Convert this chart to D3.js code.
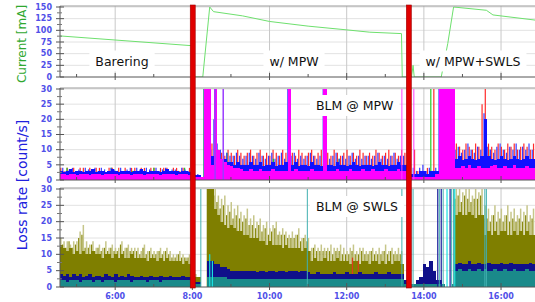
<!DOCTYPE html>
<html>
<head>
<meta charset="utf-8">
<script src="https://cdn.jsdelivr.net/npm/d3@7/dist/d3.min.js"></script>
<style>
  body { margin: 0; background: #fff; }
  svg { display: block; font-family: "DejaVu Sans", Verdana, sans-serif; }
</style>
</head>
<body>
<svg id="chart" width="535" height="302"></svg>
<script>
// Ring current (mA) over the shift
const currentTimes  = [4.57, 8.0, 8.05, 8.27, 8.45, 8.55, 9.3, 10, 11, 12, 12.6, 13.42, 13.44, 13.68, 13.72, 13.75, 14.45, 14.62, 14.77, 15.62, 15.79, 16.88];
const currentValues = [88, 67, 0, 0, 150, 140, 131, 119, 109, 101, 96, 93, 0, 0, 25, 0, 0, 72, 150, 143, 133, 122];

// loss samples: one value every 5 min starting at 4:33
const sampleStart = 4.55;
const sampleStep = 1 / 12;

// BLM @ MPW
const mpwMagenta = [
  2,2,1.5,2,2,1.5,2,2,2,1.5,2,2,
  2,1.5,2,2,2,2,1.5,2,2,2,1.5,2,
  2,2,1.5,2,2,2,2,1.5,2,2,2,2,
  1.5,2,2,2,1.5,1.5,1,1,1,30,30,5,
  30,10,7,6,5,4.5,4,4,3.5,3,3,3.5,
  3,3,3.5,3,3,3,3.5,3,3,3,3,30,
  3,3.5,3,3,3,3,3.5,3,3,3,30,3,
  3,3,3.5,3,3,3,3.5,3,3,3,3.5,3,
  3,3.5,3,3,3,3.5,3,3,3,3.5,3,3,
  1,1,1,1,1,1,1,1,1,2,30,30,
  30,30,30,4,4,4.5,4,5,4,4,4.5,4,
  4,4,4.5,5,4,4,4.5,4,4,5,4,4,
  4,4.5,4,4];
const mpwBlue = [
  3,2.5,3,3.5,2.5,3,3,2.5,3,3,3.5,2.5,
  3,3,2.5,3,3.5,3,2.5,3,3,3,2.5,3,
  3,3.5,3,2.5,3,3,3,2.5,3,3.5,3,3,
  3,2.5,3,3,2.5,2,1.5,1.5,1,30,30,8,
  14,8,7,7,6,6,5,6,5,5,5,6,
  5,5,6,4.5,5,5,6,4.5,5,5,6,30,
  5,6,4.5,5,5,4.5,6,5,5,4.5,25,5,
  5,4.5,6,5,5,4.5,5,6,5,4.5,5,5,
  5,4.5,5,6,5,5,4.5,5,5,6,5,5,
  2,2,2,2,3,3,2,3,3,3,30,30,
  30,30,30,7,8,6.5,7,8,7,6.5,7,8,
  20,8,7,6.5,7,8,7,6.5,7,8,7,6.5,
  7,8,7,7];
const mpwBlueMax = [
  3.5,4,3,3.5,4,3,3.5,3,4,3.5,3,4,
  3,4,3.5,3,4,3.5,3,4,3,3.5,4,3,
  4,3.5,3,4,3.5,3,4,3,3.5,4,3,3.5,
  3.5,3,4,3.5,3,3,2,2,1,30,30,10,
  20,12,10,9,9,8,8,9,8,7,8,9,
  8,7,9,8,7,8,9,7,8,9,7,30,
  8,9,7,8,7,8,9,8,7,8,30,8,
  7,8,9,7,8,7,8,9,7,8,7,8,
  8,7,8,9,7,8,7,8,9,7,8,8,
  3,3,4,3,4,5,3,4,3,4,30,30,
  30,30,30,10,11,9,10,12,10,9,11,10,
  22,11,10,9,11,12,10,9,11,10,12,10,
  11,10,12,10];
const mpwRed = [
  4,3,4,0,4,3,4,4,3,4,0,4,
  4,3,0,4,4,3,4,3,4,0,4,4,
  3,4,4,0,4,4,3,4,4,4,0,4,
  4,3,4,0,4,3,0,1,0,30,30,12,
  12,10,9,8,10,9,8,10,9,8,9,10,
  8,9,10,8,9,8,10,9,8,10,9,30,
  9,8,10,9,8,9,10,8,9,10,30,9,
  8,10,9,8,9,10,8,9,8,10,9,8,
  9,8,10,9,8,9,10,8,9,8,10,9,
  3,2,10,3,2,3,4,3,30,3,30,30,
  30,30,30,12,11,10,12,11,10,12,11,25,
  30,12,11,10,12,11,10,12,11,12,10,11,
  12,11,10,12];
const mpwGreen = [[4.75, 4], [5.25, 3], [5.9, 4], [6.45, 3], [7.0, 4], [7.8, 4], [8.3, 30], [8.4, 30], [8.9, 9], [10.1, 7], [11.8, 7], [14.18, 30], [15.72, 10]];
const mpwPurple = [[8.59, 30], [8.8, 30]];
const mpwMagentaLines = [13.43, 13.74];

// BLM @ SWLS
const swlsOlive = [
  13,12,11,12,10,11,10,11,10,10,11,10,
  10,9,10,10,9,10,9,10,9,9,10,9,
  9,9,9,8,9,9,8,9,8,9,8,8,
  8,8,7,8,7,7,3,3,0,0,30,30,
  24,22,20,19,18,19,18,17,17,16,16,15,
  15,15,14,14,13,14,13,13,13,12,13,12,
  12,12,12,11,12,11,8,9,8,8,9,8,
  8,8,9,8,8,8,7,8,8,7,8,8,
  7,8,8,7,8,7,8,7,8,8,7,0,
  0,0,0,0,0,0,0,0,0,0,0,0,
  0,0,0,22,23,22,22,23,22,21,22,22,
  16,17,16,17,16,17,17,16,16,17,16,17,
  16,17,16,16];
const swlsOliveMid = [
  14,13,12,14,12,13,15,16,12,12,13,11,
  12,11,12,11,12,11,11,13,11,12,11,11,
  11,10,12,10,11,10,10,11,10,11,10,9,
  9,10,9,9,9,9,3,3,0,0,30,30,
  28,26,24,25,22,23,21,22,21,20,21,19,
  19,18,19,17,18,16,17,18,16,16,16,15,
  15,15,16,14,15,14,11,12,11,11,11,11,
  11,10,11,11,10,10,10,11,10,10,11,10,
  10,11,10,10,10,11,10,11,10,10,10,0,
  0,0,0,0,0,0,0,0,0,0,0,0,
  0,0,0,27,28,26,28,27,26,27,27,28,
  21,21,20,22,20,21,20,22,20,21,20,21,
  20,22,20,21];
const swlsOliveMax = [
  15,14,14,13,14,14,17,19,14,13,14,12,
  13,12,14,12,13,12,12,14,12,13,12,12,
  12,11,13,11,12,11,11,12,11,12,11,10,
  10,11,10,9,10,10,4,3,0,0,30,30,
  30,28,27,28,25,26,24,25,23,22,24,21,
  22,20,21,19,20,18,19,20,17,18,17,16,
  17,16,18,15,16,15,12,13,12,13,12,12,
  13,12,12,13,12,11,12,13,11,12,12,11,
  11,12,11,12,11,13,11,12,11,12,11,0,
  0,0,0,0,0,0,0,0,0,0,0,0,
  0,0,0,30,30,29,30,30,28,30,29,30,
  25,24,22,25,23,24,22,25,23,24,22,24,
  23,25,22,24];
const swlsNavy = [
  4,3.5,4,3,4,3.5,4,3,3.5,4,3,3.5,
  3.5,3,4,3.5,3,4,3,3.5,3,4,3.5,3,
  3,3.5,3,3,3.5,3,3,3.5,3,3,3.5,3,
  3,3,3.5,3,3,3,1.5,1.5,0,0,8,8,
  7,7,6,6,5.5,5,5,5,5,5,5,5,
  5,4.5,5,5,4.5,5,5,4.5,5,5,4.5,5,
  5,5,4.5,5,5,4.5,4,4,4.5,4,4,4,
  4,4.5,4,4,4,4.5,4,4,4,4.5,4,4,
  4,4,4.5,4,4,4,4.5,4,4,4,4,2,
  1,1,1,2,3,7,6,8,5,2,2,1,
  0,0,1,7,7.5,7,7,8,7,7,7.5,7,
  7,7.5,7,7,7,7.5,7,7,7.5,7,7,7,
  7,7,7.5,7];
const swlsTeal = [
  2,2,1.5,2,2,2,1.5,2,2,2,1.5,2,
  2,1.5,2,2,2,1.5,2,2,2,2,1.5,2,
  2,2,2,1.5,2,2,2,1.5,2,2,2,2,
  2,2,2,2,2,2,1,1,0,0,3,3,
  3,3,3,3,2.5,2.5,2.5,2.5,2.5,2.5,2.5,2.5,
  2.5,2.5,2.5,2.5,2.5,2.5,2.5,2.5,2.5,2.5,2.5,2.5,
  2.5,2.5,2.5,2.5,2.5,2.5,2.5,2.5,2.5,2.5,2.5,2.5,
  2.5,2.5,2.5,2.5,2.5,2.5,2.5,2.5,2.5,2.5,2.5,2.5,
  2.5,2.5,2.5,2.5,2.5,2.5,2.5,2.5,2.5,2.5,2.5,1,
  1,1,1,1,1,1,1,1,1,1,1,1,
  0,0,1,5,5.5,5,5,5.5,5,5,5.5,5,
  5.5,5,5,5.5,5,5,5.5,5,5,5.5,5,5,
  5,5.5,5,5];
const swlsCyan = [[8.45, 10], [8.52, 8], [14.6, 30], [14.8, 30]];
const swlsRed = [[12.15, 9], [12.3, 8]];
const swlsNavyLines = [14.36, 14.45, 14.68];
const swlsTealLines = [8.22, 10.98, 13.43, 13.66, 13.72, 14.4, 14.5, 14.72, 14.77, 15.58, 15.62];

// run markers and labels
const beamBreaks = [8.01, 13.61];
const runLabels = [["Barering", 122], ["w/ MPW", 294], ["w/ MPW+SWLS", 473]];
const hourTicks = [5, 6, 7, 8, 9, 10, 11, 12, 13, 14, 15, 16];
const labelHours = [6, 8, 10, 12, 14, 16];

const svg = d3.select('#chart');
const W = 535;
const x = d3.scaleLinear().domain([4.57, 16.88]).range([60, 535]);
const sampleTimes = mpwMagenta.map((d, i) => sampleStart + i * sampleStep);

const panels = [
  { name: 'cur',  top: 6,  y: d3.scaleLinear().domain([0, 150]).range([77, 7]),  major: [0, 25, 50, 75, 100, 125, 150], minorStep: 12.5 },
  { name: 'mpw',  top: 88, y: d3.scaleLinear().domain([0, 30]).range([180, 89]), major: [0, 5, 10, 15, 20, 25, 30], minorStep: 2.5 },
  { name: 'swls', top: 188, y: d3.scaleLinear().domain([0, 30]).range([287, 189]), major: [0, 5, 10, 15, 20, 25, 30], minorStep: 2.5 }
];

const defs = svg.append('defs');

panels.forEach(p => {
  const bottom = p.y(0);
  p.g = svg.append('g');

  // grid
  p.g.append('g').selectAll('line.h').data(p.major.slice(1)).join('line')
    .attr('x1', 60).attr('x2', W).attr('y1', d => p.y(d)).attr('y2', d => p.y(d))
    .attr('stroke', '#e2e2e2').attr('stroke-width', 1);
  p.g.append('g').selectAll('line.v').data(labelHours).join('line')
    .attr('x1', d => x(d)).attr('x2', d => x(d)).attr('y1', p.top).attr('y2', bottom)
    .attr('stroke', '#c8c8c8').attr('stroke-width', 1);

  defs.append('clipPath').attr('id', 'clip-' + p.name)
    .append('rect').attr('x', 60).attr('y', p.top).attr('width', W - 60).attr('height', bottom - p.top);
  p.plot = p.g.append('g').attr('clip-path', `url(#clip-${p.name})`);
});

function drawBars(p, values, color) {
  p.plot.append('g').selectAll('rect').data(values).join('rect')
    .attr('x', (d, i) => x(sampleTimes[i]))
    .attr('width', (d, i) => x(sampleTimes[i] + sampleStep) - x(sampleTimes[i]) + 0.4)
    .attr('y', d => p.y(d))
    .attr('height', d => p.y(0) - p.y(d))
    .attr('fill', color)
    .attr('shape-rendering', 'crispEdges');
}

// thin spikes, placed at a fraction of each sample interval
function drawSpikes(p, values, color, width, offset) {
  p.plot.append('g').selectAll('line').data(values).join('line')
    .attr('x1', (d, i) => x(sampleTimes[i] + sampleStep * offset))
    .attr('x2', (d, i) => x(sampleTimes[i] + sampleStep * offset))
    .attr('y1', p.y(0)).attr('y2', d => p.y(d))
    .attr('stroke', color).attr('stroke-width', width);
}

function drawPairs(p, pairs, color, width) {
  p.plot.append('g').selectAll('line').data(pairs).join('line')
    .attr('x1', d => x(d[0])).attr('x2', d => x(d[0]))
    .attr('y1', p.y(0)).attr('y2', d => p.y(d[1]))
    .attr('stroke', color).attr('stroke-width', width);
}

// current panel
const cur = panels[0];
cur.plot.append('path')
  .datum(currentTimes.map((t, i) => [t, currentValues[i]]))
  .attr('fill', 'none')
  .attr('stroke', '#6ee06e')
  .attr('stroke-width', 1)
  .attr('d', d3.line().x(d => x(d[0])).y(d => cur.y(d[1])));

// BLM @ MPW
const mpw = panels[1];
drawSpikes(mpw, mpwRed, '#ff2a2a', 1.2, 0.5);
drawPairs(mpw, mpwGreen, '#22cc22', 1.2);
drawSpikes(mpw, mpwBlueMax, '#3a3aff', 1.2, 0.1);
drawBars(mpw, mpwBlue, '#1010ff');
drawBars(mpw, mpwMagenta, '#ff00ff');
drawPairs(mpw, mpwPurple, '#9a3cff', 1.5);
drawPairs(mpw, mpwMagentaLines.map(t => [t, 30]), '#ff40ff', 1);

// BLM @ SWLS
const swls = panels[2];
drawSpikes(swls, swlsOliveMax, '#c6c68a', 1.5, 0.5);
drawSpikes(swls, swlsOliveMid, '#8a8a10', 1.2, 0.05);
drawBars(swls, swlsOlive, '#7f7f00');
drawPairs(swls, swlsRed, '#e03a1a', 1.2);
drawBars(swls, swlsNavy, '#10108a');
drawBars(swls, swlsTeal, '#1a8a8a');
drawPairs(swls, swlsCyan, '#18e0e0', 1.2);
drawPairs(swls, swlsNavyLines.map(t => [t, 30]), '#1a1a9a', 1.2);
drawPairs(swls, swlsTealLines.map(t => [t, 30]), '#40b0b0', 1);

// axes and frames
panels.forEach(p => {
  const bottom = p.y(0);
  const ax = p.g.append('g');
  ax.append('line').attr('x1', 60).attr('x2', W).attr('y1', p.top).attr('y2', p.top).attr('stroke', '#9a9a9a');
  ax.append('line').attr('x1', 60).attr('x2', W).attr('y1', bottom).attr('y2', bottom).attr('stroke', '#555');
  ax.append('line').attr('x1', 60).attr('x2', 60).attr('y1', p.top).attr('y2', bottom).attr('stroke', '#555');

  const minor = d3.range(0, p.y.domain()[1] + 0.01, p.minorStep).filter(v => p.major.indexOf(v) < 0);
  ax.selectAll('line.mj').data(p.major).join('line')
    .attr('x1', 56).attr('x2', 64).attr('y1', d => p.y(d)).attr('y2', d => p.y(d)).attr('stroke', '#555');
  ax.selectAll('line.mn').data(minor).join('line')
    .attr('x1', 57).attr('x2', 62).attr('y1', d => p.y(d)).attr('y2', d => p.y(d)).attr('stroke', '#777');
  ax.selectAll('text').data(p.major).join('text')
    .attr('x', 52).attr('y', d => p.y(d)).attr('dy', '0.35em')
    .attr('text-anchor', 'end')
    .attr('font-size', 8).attr('font-weight', 'bold').attr('fill', '#5050e8')
    .text(d => d);

  ax.selectAll('line.ht').data(hourTicks).join('line')
    .attr('x1', d => x(d)).attr('x2', d => x(d))
    .attr('y1', d => labelHours.indexOf(d) >= 0 ? bottom + 3 : bottom)
    .attr('y2', d => labelHours.indexOf(d) >= 0 ? bottom - 4 : bottom - 3)
    .attr('stroke', '#555');
});

// time labels
svg.append('g').selectAll('text').data(labelHours).join('text')
  .attr('x', d => x(d)).attr('y', 299)
  .attr('text-anchor', 'middle')
  .attr('font-size', 8).attr('font-weight', 'bold').attr('fill', '#5050e8')
  .text(d => d + ':00');

// beam break markers
svg.append('g').selectAll('rect').data(beamBreaks).join('rect')
  .attr('x', d => x(d) - 2.5).attr('y', 5).attr('width', 5).attr('height', 283)
  .attr('fill', '#e00000').attr('stroke', '#a00000').attr('stroke-width', 0.6);

// boxed labels
function boxedLabel(txt, cx, baseline, anchor) {
  const g = svg.append('g');
  const t = g.append('text').attr('x', cx).attr('y', baseline)
    .attr('text-anchor', anchor).attr('font-size', 12.5).attr('fill', '#111').text(txt);
  const b = t.node().getBBox();
  g.insert('rect', 'text')
    .attr('x', b.x - 6).attr('y', b.y - 3).attr('width', b.width + 12).attr('height', b.height + 6)
    .attr('fill', '#fff');
}
runLabels.forEach(d => boxedLabel(d[0], d[1], 65.5, 'middle'));
boxedLabel('BLM @ MPW', 316, 110, 'start');
boxedLabel('BLM @ SWLS', 316, 211, 'start');

// axis titles
svg.append('text').attr('transform', 'translate(26,44) rotate(-90)')
  .attr('text-anchor', 'middle').attr('font-size', 12).attr('fill', '#2fa82f')
  .text('Current [mA]');
svg.append('text').attr('transform', 'translate(27,185) rotate(-90)')
  .attr('text-anchor', 'middle').attr('font-size', 14).attr('fill', '#2020dd')
  .text('Loss rate [count/s]');
</script>
</body>
</html>
